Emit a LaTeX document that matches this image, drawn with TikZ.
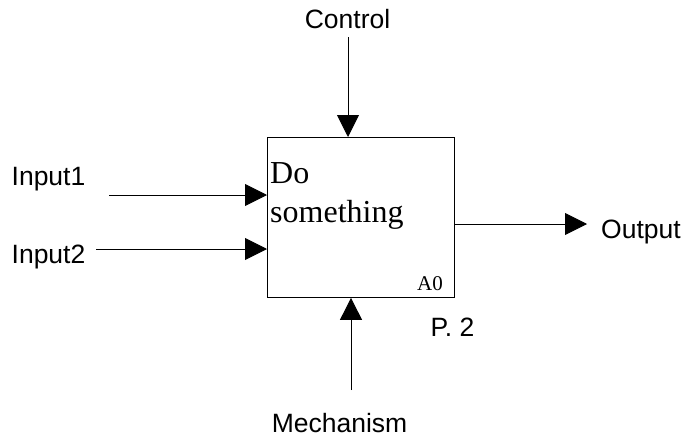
\documentclass[tikz,border=0pt]{standalone}
\usepackage{fontspec}
\setmainfont{Liberation Serif}
\newfontfamily\labelfont{Liberation Sans}
\usetikzlibrary{arrows.meta}
\begin{document}
\begin{tikzpicture}[x=1pt,y=-1pt,
  lbl/.style={font=\labelfont\fontsize{26.5}{30}\selectfont, inner sep=0pt, anchor=base},
  arr/.style={line width=0.9pt, -{Triangle[length=22pt,width=22pt]}},
  fbox/.style={draw, line width=0.9pt, minimum width=187pt, minimum height=160pt, anchor=north west, inner sep=0pt}]
\useasboundingbox (0,0) rectangle (684,439);
\node[fbox] (box) at (267,137) {};
\node[align=left, anchor=north west, inner sep=0pt, font=\fontsize{32}{39}\selectfont] (txt) at (270,162) {Do\\something};
\node[anchor=base east, inner sep=0pt, font=\fontsize{21}{24}\selectfont] (a0) at (443,290) {A0};
\node[lbl] (control) at (347.5,28) {Control};
\node[lbl] (in1) at (48.5,185) {Input1};
\node[lbl] (in2) at (48.5,263) {Input2};
\node[lbl] (out) at (641,238) {Output};
\node[lbl] (mech) at (339.5,432) {Mechanism};
\node[lbl] (p2) at (452.5,336) {P. 2};
\coordinate (c1) at (348,37);
\coordinate (i1) at (109,195);
\coordinate (i2) at (96,249);
\coordinate (o1) at (587,224);
\coordinate (m1) at (351,390);
\draw[arr] (c1) -- (c1 |- box.north);
\draw[arr] (i1) -- (i1 -| box.west);
\draw[arr] (i2) -- (i2 -| box.west);
\draw[arr] (box.east |- o1) -- (o1);
\draw[arr] (m1) -- (m1 |- box.south);
\end{tikzpicture}
\end{document}
